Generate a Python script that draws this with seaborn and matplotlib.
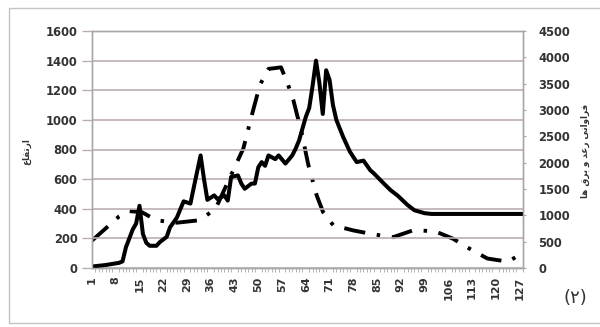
import matplotlib
matplotlib.use("Agg")
import matplotlib.pyplot as plt
import seaborn as sns
import pandas as pd
from matplotlib.patches import Rectangle

# ---- data ----
height_day = [1, 5, 9, 10, 11, 12, 13, 14, 15, 16, 17, 18, 20, 21, 23, 24, 26, 28, 30,
              31, 33, 34, 35, 37, 38, 40, 41, 42, 44, 45, 46, 48, 49, 50, 51, 52, 53,
              55, 56, 58, 60, 61, 62, 64, 65, 66, 67, 68, 69, 70, 71, 72, 73, 75, 77,
              79, 81, 83, 84, 87, 89, 91, 94, 96, 99, 101, 128]
height_val = [10, 20, 35, 45, 140, 200, 260, 300, 420, 230, 170, 150, 150, 175, 210, 275,
              340, 450, 435, 545, 760, 600, 460, 490, 465, 490, 455, 615, 625, 570, 535,
              570, 570, 680, 715, 690, 760, 735, 760, 705, 760, 805, 860, 1020, 1080,
              1230, 1400, 1250, 1040, 1335, 1270, 1100, 1000, 885, 785, 715, 725, 660,
              640, 570, 525, 490, 425, 390, 370, 365, 365]

freq_day = [1, 5, 9, 12, 15.7, 20, 26, 32.4, 37.3, 45.6, 48, 50.5, 53, 56.7, 58.6,
            60.3, 62.8, 64.7, 67.2, 69.1, 72.1, 77.9, 83.8, 89.7, 95.6, 102, 107.4,
            112.3, 117.5, 123.6, 127]
freq_val = [520, 750, 980, 1080, 1060, 905, 860, 905, 1110, 2270, 2880, 3480, 3780,
            3810, 3510, 3195, 2560, 1970, 1380, 1060, 810, 715, 640, 585, 715, 700,
            555, 365, 180, 120, 250]

xticks = list(range(1, 128, 7))
left_ticks = list(range(0, 1601, 200))
right_ticks = list(range(0, 4501, 500))

left_title = "ارتفاع"
right_title = "فراوانی رعد و برق ها"
panel_label = "(۲)"

# minimal Arabic/Persian shaping (matplotlib has no complex text layout)
FORMS = {  # iso, fin, init, med (None -> non-joining forward)
    "ا": ("\uFE8D", "\uFE8E", None, None),
    "ر": ("\uFEAD", "\uFEAE", None, None),
    "د": ("\uFEA9", "\uFEAA", None, None),
    "و": ("\uFEED", "\uFEEE", None, None),
    "ت": ("\uFE95", "\uFE96", "\uFE97", "\uFE98"),
    "ف": ("\uFED1", "\uFED2", "\uFED3", "\uFED4"),
    "ع": ("\uFEC9", "\uFECA", "\uFECB", "\uFECC"),
    "ن": ("\uFEE5", "\uFEE6", "\uFEE7", "\uFEE8"),
    "ی": ("\uFBFC", "\uFBFD", "\uFBFE", "\uFBFF"),
    "ب": ("\uFE8F", "\uFE90", "\uFE91", "\uFE92"),
    "ق": ("\uFED5", "\uFED6", "\uFED7", "\uFED8"),
    "ه": ("\uFEE9", "\uFEEA", "\uFEEB", "\uFEEC"),
}


def shape(s):
    out = []
    for i, c in enumerate(s):
        if c not in FORMS:
            out.append(c)
            continue
        iso, fin, ini, med = FORMS[c]
        prev = s[i - 1] if i > 0 else ""
        nxt = s[i + 1] if i + 1 < len(s) else ""
        jp = prev in FORMS and FORMS[prev][2] is not None
        jn = ini is not None and nxt in FORMS
        if jp and jn:
            out.append(med)
        elif jp:
            out.append(fin)
        elif jn:
            out.append(ini)
        else:
            out.append(iso)
    return "".join(reversed(out))


df_h = pd.DataFrame({"day": height_day, "val": height_val})
df_f = pd.DataFrame({"day": freq_day, "val": freq_val})

sns.set_style("white")
plt.rcParams['font.family'] = ['DejaVu Sans']

fig = plt.figure(figsize=(6.0, 3.27), dpi=100)
ax = fig.add_axes([92/600, (327-268)/327, (523-92)/600, (268-31)/327])
ax2 = ax.twinx()

grid_c = "#bcaeae"
spine_c = "#a8a8a8"
text_c = "#333333"

sns.lineplot(data=df_f, x="day", y="val", ax=ax2, color="black", linewidth=2.8,
             sort=False, estimator=None)
ln = ax2.lines[0]
ln.set_dashes((5.5, 3.0, 0.9, 3.0))
ln.set_dash_capstyle("butt")

sns.lineplot(data=df_h, x="day", y="val", ax=ax, color="black", linewidth=2.9,
             sort=False, estimator=None)
ax.set_zorder(ax2.get_zorder() + 1)
ax.patch.set_visible(False)

ax.set_xlim(1, 128)
ax.set_ylim(0, 1600)
ax2.set_ylim(0, 4500)
ax.set_yticks(left_ticks)
ax2.set_yticks(right_ticks)
ax.set_xticks(xticks)
ax.set_xticks(range(1, 129), minor=True)
ax.set_xticklabels([str(t) for t in xticks], rotation=90)

for a in (ax, ax2):
    for s in a.spines.values():
        s.set_color(spine_c)
        s.set_linewidth(1.0)
    a.set_xlabel("")
    a.set_ylabel("")

ax.grid(axis="y", color=grid_c, linewidth=1.2)
ax.set_axisbelow(True)

ax.tick_params(axis="y", which="major", length=7, width=1.0, color=grid_c,
               labelsize=8.3, labelcolor=text_c, pad=3.5)
ax2.tick_params(axis="y", which="major", length=2.5, width=0.8, color=spine_c,
                labelsize=8.3, labelcolor=text_c, pad=8.5)
ax.tick_params(axis="x", which="major", length=4, width=0.8, color=spine_c,
               labelsize=8.0, labelcolor=text_c, pad=2)
ax.tick_params(axis="x", which="minor", length=3, width=0.6, color=spine_c, bottom=True)
for lbl in ax.get_yticklabels() + ax2.get_yticklabels() + ax.get_xticklabels():
    lbl.set_fontweight("bold")

fig.text(27/600, 1 - 152/327, shape(left_title), rotation=90, ha="center", va="center",
         fontsize=6.3, fontweight="bold", color=text_c)
fig.text(585/600, 1 - 151/327, shape(right_title), rotation=90, ha="center",
         va="center", fontsize=6.3, fontweight="bold", color=text_c)
fig.text(575/600, 1 - 298/327, panel_label, ha="center", va="center", fontsize=13,
         color=text_c)

fig.patches.append(Rectangle((9/600, 4/327), 1.0, 1 - 12/327, transform=fig.transFigure,
                             fill=False, edgecolor="#c4c4c4", linewidth=1.0))

fig.savefig("out.png", dpi=100)
